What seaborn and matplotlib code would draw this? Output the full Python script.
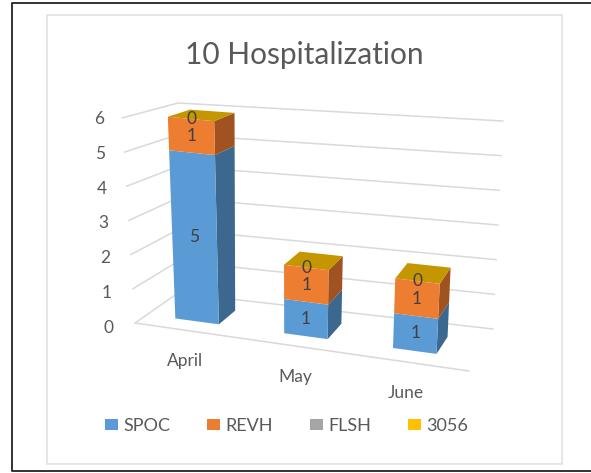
import numpy as np
import pandas as pd
import matplotlib
matplotlib.use("Agg")
import matplotlib.pyplot as plt
import seaborn as sns
from matplotlib.patches import Polygon, Patch, Rectangle
from matplotlib.lines import Line2D
from matplotlib.transforms import Transform, Affine2D

# data
months = ["April", "May", "June"]
spoc = [5, 1, 1]
revh = [1, 1, 1]
flsh = [0, 0, 0]
s3056 = [0, 0, 0]
series_names = ["SPOC", "REVH", "FLSH", "3056"]
y_ticks = [0, 1, 2, 3, 4, 5, 6]

W, H = 591, 473
front = ["#5B9BD5", "#ED7D31", "#A5A5A5", "#FFC000"]
side = ["#3C688F", "#A05320", "#6F6F6F", "#A67C00"]
top_col = "#C49700"
grid_col = "#D9D9D9"
text_col = "#595959"

# box corners in pixels: (front/back, bottom/top, left/right)
XMIN, XMAX = -0.46, 2.56
YMAX = 6
FLB, FRB = np.array([135, 323.]), np.array([469, 371.])
FLT, FRT = np.array([122, 118.]), np.array([482, 158.])
BLB, BRB = np.array([178, 293.]), np.array([493, 329.])
BLT, BRT = np.array([178, 103.]), np.array([503, 121.])
Z0, Z1 = 0.28, 0.70
BAR_W = 0.40


def project(x, y, z):
    s = (np.asarray(x, float) - XMIN) / (XMAX - XMIN)
    t = np.asarray(y, float) / YMAX
    s, t = np.broadcast_arrays(s, t)
    out = []
    for i in range(2):
        f = (1 - t) * ((1 - s) * FLB[i] + s * FRB[i]) + t * ((1 - s) * FLT[i] + s * FRT[i])
        b = (1 - t) * ((1 - s) * BLB[i] + s * BRB[i]) + t * ((1 - s) * BLT[i] + s * BRT[i])
        out.append((1 - z) * f + z * b)
    return np.column_stack(out)


class Persp(Transform):
    input_dims = 2
    output_dims = 2
    is_separable = False

    def __init__(self, z):
        super().__init__()
        self.z = z

    def transform_non_affine(self, values):
        return project(values[:, 0], values[:, 1], self.z)


sns.set_theme(style="white")
plt.rcParams["font.family"] = ["Lato", "DejaVu Sans"]

fig = plt.figure(figsize=(W / 100, H / 100), dpi=100)
ax = fig.add_axes([0, 0, 1, 1])
to_fig = Affine2D().scale(1 / W, -1 / H).translate(0, 1) + fig.transFigure

# frames, the dark one is open on the right
fig.add_artist(Line2D([591, 11.5, 11.5, 591], [3.5, 3.5, 471, 471], color="#222222", lw=1.3, transform=to_fig))
fig.add_artist(Rectangle((47, 15), 515, 448.5, fill=False, ec="#E2E2E2", lw=1.2, transform=to_fig))

# walls
for v in y_ticks:
    p = project([XMIN, XMIN, XMAX], [v, v, v], 0)
    p[1:] = project([XMIN, XMAX], [v, v], 1)
    ax.add_line(Line2D(p[:, 0], p[:, 1], color=grid_col, lw=1.1, transform=to_fig, zorder=1))
    a = project(XMIN, v, 0)[0]
    ax.text(a[0] - 27 + v * 0.67, a[1] + 1 + (6 - v) * 0.6, str(v), transform=to_fig, ha="center",
            va="center", fontsize=12.5, color=text_col)
p = project([XMIN, XMAX], [0, 0], 0)
ax.add_line(Line2D(p[:, 0], p[:, 1], color=grid_col, lw=1.1, transform=to_fig, zorder=1))

# stacked bars
df = pd.DataFrame({"month": months, "SPOC": spoc, "REVH": revh, "FLSH": flsh, "3056": s3056})
bottoms = np.zeros(len(months))
for k, name in enumerate(series_names):
    n_before = len(ax.patches)
    sns.barplot(data=df, x="month", y=name, order=months, color=front[k], saturation=1,
                width=BAR_W, bottom=bottoms, ax=ax, zorder=3)
    for b, bar in zip(bottoms, ax.patches[n_before:]):
        x0, x1 = bar.get_x(), bar.get_x() + bar.get_width()
        y0, y1 = bar.get_y(), bar.get_y() + bar.get_height()
        bar.set_transform(Persp(Z0) + to_fig)
        bar.set_clip_on(False)
        bar.set_linewidth(0)
        s1 = np.vstack([project(x1, y0, Z0), project(x1, y1, Z0), project(x1, y1, Z1), project(x1, y0, Z1)])
        ax.add_patch(Polygon(s1, fc=side[k], ec="none", transform=to_fig, zorder=2.5, clip_on=False))
        # only the last series shows its top face
        if k == len(series_names) - 1:
            t1 = np.vstack([project(x0, y1, Z0), project(x1, y1, Z0), project(x1, y1, Z1), project(x0, y1, Z1)])
            ax.add_patch(Polygon(t1, fc=top_col, ec="none", transform=to_fig, zorder=2.6, clip_on=False))
    bottoms = bottoms + np.array(df[name], float)

# value labels, FLSH has none in the picture
bottoms = np.zeros(len(months))
for name in series_names:
    vals = np.array(df[name], float)
    if name != "FLSH":
        for i, v in enumerate(vals):
            ax.text(i, bottoms[i] + v / 2, f"{v:.0f}", transform=Persp(Z0) + to_fig, ha="center",
                    va="center", fontsize=12.5, color="#404040", zorder=5)
    bottoms = bottoms + vals

for i, m in enumerate(months):
    a = project(i, 0, 0)[0]
    ax.text(a[0] - 1, a[1] + 31, m, transform=to_fig, ha="center", va="center", fontsize=12.5, color=text_col)

ax.set_xlim(XMIN, XMAX)
ax.set_ylim(0, YMAX)
ax.set_axis_off()

fig.text(304 / W, 1 - 55 / H, "10 Hospitalization", ha="center", va="center", fontsize=21.5, color=text_col)

handles = [Patch(fc=c, ec="none") for c in front]
fig.legend(handles, series_names, ncol=4, frameon=False, loc="center",
           bbox_to_anchor=(286.5 / W, 1 - 426 / H), fontsize=13, labelcolor=text_col,
           handlelength=0.72, handleheight=0.6, handletextpad=0.28, columnspacing=2.05)

fig.savefig("out.png", dpi=100)
